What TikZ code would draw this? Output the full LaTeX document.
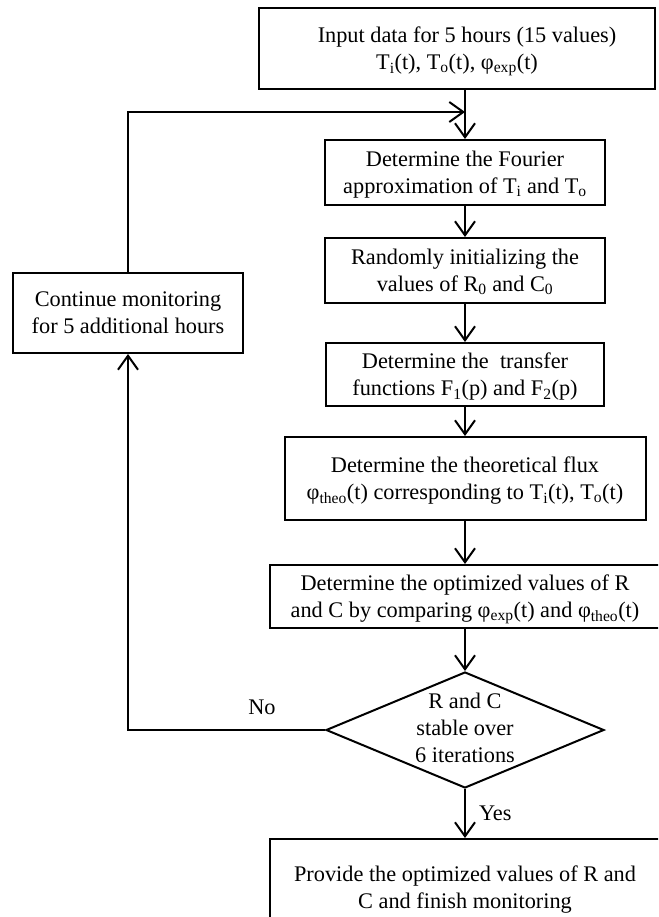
\documentclass[tikz,border=0pt]{standalone}
\usepackage{fontspec}
\setmainfont{Liberation Serif}
\usetikzlibrary{shapes.geometric,arrows.meta}
\newcommand{\sbx}[1]{\textsubscript{#1}}
\begin{document}
\begin{tikzpicture}[x=1pt,y=-1pt, line width=2pt,
  font=\fontsize{22.3}{27}\selectfont,
  box/.style={draw, rectangle, align=center, inner sep=0pt, text depth=0pt},
  arr/.style={-{Straight Barb[length=14pt,width=20pt]}},
  lbl/.style={inner sep=0pt}]
\useasboundingbox (0,0) rectangle (658,917);
\clip (0,0) rectangle (658,917);

\node[box, minimum width=396, minimum height=81] (b1) at (457,48.5)
  {\hspace*{20pt}Input data for 5 hours (15 values)\\T\sbx{i}(t), T\sbx{o}(t), φ\sbx{exp}(t)};
\node[box, minimum width=280, minimum height=65] (b2) at (465,172.5)
  {Determine the Fourier\\approximation of T\sbx{i} and T\sbx{o}};
\node[box, minimum width=280, minimum height=65] (b3) at (465,270.5)
  {Randomly initializing the\\values of R\sbx{0} and C\sbx{0}};
\node[box, minimum width=278, minimum height=63] (b4) at (465,374.5)
  {Determine the\ \ transfer\\functions F\sbx{1}(p) and F\sbx{2}(p)};
\node[box, minimum width=361, minimum height=83] (b5) at (465,478.5)
  {Determine the theoretical flux\\φ\sbx{theo}(t) corresponding to T\sbx{i}(t), T\sbx{o}(t)};
\node[box, minimum width=390, minimum height=63] (b6) at (465,596.5)
  {Determine the optimized values of R\\and C by comparing φ\sbx{exp}(t) and φ\sbx{theo}(t)};
\node[diamond, draw, minimum width=278, minimum height=116, inner sep=0pt] (dia) at (465,730)
  {\makebox[0pt]{\raisebox{-4pt}{\begin{tabular}{@{}c@{}}R and C\\stable over\\6 iterations\end{tabular}}}};
\node[box, minimum width=390, minimum height=96] (b7) at (465,887)
  {Provide the optimized values of R and\\C and finish monitoring};
\node[box, minimum width=230, minimum height=80] (cont) at (128,313)
  {Continue monitoring\\for 5 additional hours};
\coordinate (join) at (465,112);

\draw[arr] (b1.south -| b2.north) -- (b2.north);
\draw[arr] (cont.north) |- (join);
\draw[arr] (b2.south) -- (b3.north);
\draw[arr] (b3.south) -- (b4.north);
\draw[arr] (b4.south) -- (b5.north);
\draw[arr] (b5.south) -- (b6.north);
\draw[arr] (b6.south) -- (dia.north);
\draw[arr] (dia.south) -- (b7.north) node[midway, right=13pt, lbl] {Yes};
\draw[arr] (dia.west) -| (cont.south) node[pos=0.16, above=14pt, lbl] {No};
\end{tikzpicture}
\end{document}
